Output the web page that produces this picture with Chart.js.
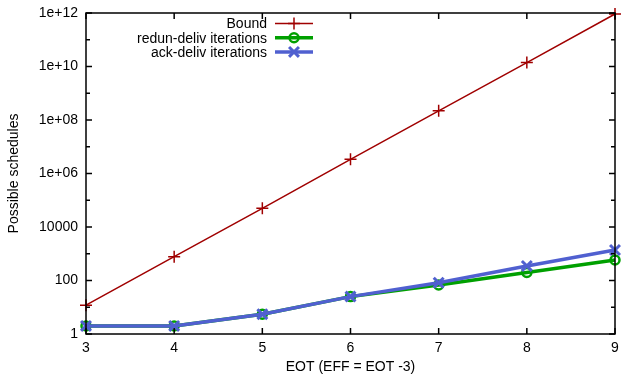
<!DOCTYPE html>
<html>
<head>
<meta charset="utf-8">
<script src="https://cdn.jsdelivr.net/npm/chart.js@4.4.1/dist/chart.umd.min.js"></script>
<style>
  html, body { margin: 0; padding: 0; background: #fff; }
  canvas { display: block; }
</style>
</head>
<body>
<canvas id="myChart" width="625" height="381"></canvas>
<script>
// données
const eot = [3, 4, 5, 6, 7, 8, 9];
const bound = [12, 780, 50000, 3.4e6, 2.2e8, 1.4e10, 9.2e11];
const redunDeliv = [2, 2, 5.5, 25, 68, 200, 585];
const ackDeliv = [2, 2, 5.5, 25, 83, 350, 1380];
const yTicks = [1, 1e1, 1e2, 1e3, 1e4, 1e5, 1e6, 1e7, 1e8, 1e9, 1e10, 1e11, 1e12];
const seriesLabels = ['Bound', 'redun-deliv iterations', 'ack-deliv iterations'];

const FONT = 'Liberation Sans, Arial, Helvetica, sans-serif';

const toPoints = vals => eot.map((x, i) => ({x: x, y: vals[i]}));

// étiquettes façon gnuplot
const fmtLog = v => {
    const e = Math.round(Math.log10(v));
    if (e % 2 !== 0) return '';
    if (e <= 4) return String(Math.pow(10, e));
    return '1e+' + (e < 10 ? '0' + e : e);
};

// cadre + graduations vers l'intérieur
const framePlugin = {
    id: 'frame',
    afterDatasetsDraw(chart) {
        const {ctx, chartArea: a, scales} = chart;
        ctx.save();
        ctx.strokeStyle = '#000';
        ctx.lineWidth = 1.5;
        ctx.strokeRect(a.left, a.top, a.right - a.left, a.bottom - a.top);
        ctx.beginPath();
        eot.forEach(v => {
            const px = scales.x.getPixelForValue(v);
            ctx.moveTo(px, a.bottom); ctx.lineTo(px, a.bottom - 6);
            ctx.moveTo(px, a.top); ctx.lineTo(px, a.top + 6);
        });
        yTicks.forEach(v => {
            const py = scales.y.getPixelForValue(v);
            const len = fmtLog(v) === '' ? 4 : 6;
            ctx.moveTo(a.left, py); ctx.lineTo(a.left + len, py);
            ctx.moveTo(a.right, py); ctx.lineTo(a.right - len, py);
        });
        ctx.stroke();
        ctx.restore();
    }
};

// légende en haut, texte à gauche de l'échantillon
const legendPlugin = {
    id: 'gpLegend',
    afterDraw(chart) {
        const ctx = chart.ctx;
        ctx.save();
        ctx.font = '14px ' + FONT;
        ctx.textAlign = 'right';
        ctx.textBaseline = 'middle';
        chart.data.datasets.forEach((ds, i) => {
            const y = 23.5 + i * 14.2;
            ctx.fillStyle = '#000';
            ctx.fillText(ds.label, 267, y + 1);
            ctx.strokeStyle = ds.borderColor;
            ctx.lineWidth = ds.borderWidth;
            ctx.beginPath();
            ctx.moveTo(275, y); ctx.lineTo(313, y);
            ctx.stroke();
            ctx.fillStyle = ds.backgroundColor;
            ctx.lineWidth = ds.pointBorderWidth;
            Chart.helpers.drawPoint(ctx, {
                pointStyle: ds.pointStyle,
                radius: ds.pointRadius,
                borderWidth: ds.pointBorderWidth,
                rotation: 0
            }, 294, y);
        });
        ctx.restore();
    }
};

const data = {
    datasets: [{
        label: seriesLabels[0],
        data: toPoints(bound),
        borderColor: '#a00000',
        backgroundColor: '#a00000',
        borderWidth: 1.5,
        pointStyle: 'cross',
        pointRadius: 6,
        pointBorderWidth: 1.5,
        order: 2
    }, {
        label: seriesLabels[1],
        data: toPoints(redunDeliv),
        borderColor: '#00a000',
        backgroundColor: 'rgba(0,0,0,0)',
        borderWidth: 3.5,
        pointStyle: 'circle',
        pointRadius: 4.5,
        pointBorderWidth: 2.5,
        order: 1
    }, {
        label: seriesLabels[2],
        data: toPoints(ackDeliv),
        borderColor: '#5060d0',
        backgroundColor: '#5060d0',
        borderWidth: 3.5,
        pointStyle: 'crossRot',
        pointRadius: 7,
        pointBorderWidth: 3,
        order: 0
    }]
};

const config = {
    type: 'line',
    data,
    options: {
        responsive: false,
        animation: false,
        devicePixelRatio: 1,
        clip: false,
        layout: { padding: { top: 13, right: 0, left: 0, bottom: 0 } },
        elements: { line: { tension: 0 } },
        plugins: {
            legend: { display: false },
            tooltip: { enabled: false }
        },
        scales: {
            x: {
                type: 'linear',
                min: 3,
                max: 9,
                grid: { display: false, drawTicks: false },
                border: { display: false },
                afterFit: s => { s.height = 47; s.paddingLeft = 0; s.paddingRight = 6; },
                ticks: {
                    stepSize: 1,
                    padding: 6,
                    color: '#000',
                    font: { family: FONT, size: 14 }
                },
                title: {
                    display: true,
                    text: 'EOT (EFF = EOT -3)',
                    color: '#000',
                    font: { family: FONT, size: 14 },
                    padding: { top: 0, bottom: 5 }
                }
            },
            y: {
                type: 'logarithmic',
                min: 1,
                max: 1e12,
                grid: { display: false, drawTicks: false },
                border: { display: false },
                afterFit: s => { s.width = 86; s.paddingTop = 0; s.paddingBottom = 0; },
                afterBuildTicks: s => { s.ticks = yTicks.map(v => ({value: v})); },
                ticks: {
                    autoSkip: false,
                    padding: 8,
                    color: '#000',
                    font: { family: FONT, size: 14 },
                    callback: v => fmtLog(v)
                },
                title: {
                    display: true,
                    text: 'Possible schedules',
                    color: '#000',
                    font: { family: FONT, size: 14 },
                    padding: { top: 6, bottom: 0 }
                }
            }
        }
    },
    plugins: [framePlugin, legendPlugin]
};

const mychart = new Chart(document.getElementById('myChart'), config);
</script>
</body>
</html>
